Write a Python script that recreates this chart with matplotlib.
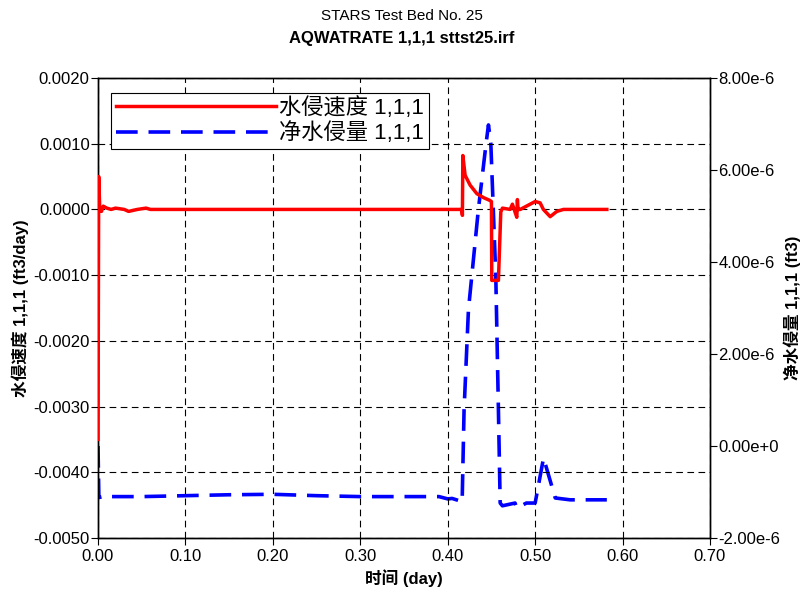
import matplotlib
matplotlib.use("Agg")
import matplotlib.pyplot as plt
from matplotlib.ticker import FuncFormatter, MultipleLocator

plt.rcParams['font.family'] = ['Liberation Sans', 'Noto Sans CJK SC']
plt.rcParams['axes.unicode_minus'] = False

# 水侵速度 1,1,1 (ft3/day), left axis
rate_t = [0.0, 0.0008, 0.002, 0.004, 0.006, 0.010, 0.015, 0.020, 0.030, 0.035, 0.045,
          0.055, 0.060, 0.20, 0.40, 0.416, 0.4168, 0.4173, 0.4199, 0.4256, 0.4333,
          0.4409, 0.4477, 0.4500, 0.4504, 0.4580, 0.4607, 0.4626, 0.4714, 0.4740,
          0.4760, 0.4790, 0.4797, 0.4805, 0.4830, 0.5000, 0.5057, 0.5094, 0.5172,
          0.5248, 0.5324, 0.5820]
rate_v = [-0.0035, 0.0005, 0.0, -0.00003, 0.00005, 0.00002, 0.0, 0.00002, 0.0, -0.00003,
          0.0, 0.00002, 0.0, 0.0, 0.0, 0.0, -0.00009, 0.00082, 0.00052, 0.00037, 0.00024,
          0.00018, 0.00014, 0.00012, -0.00108, -0.00108, -0.00004, 0.00002, 0.0, 0.00008,
          0.0, -0.00012, 0.00015, 0.0, 0.0, 0.00012, 0.0001, 0.0, -0.00011, -0.00003,
          0.0, 0.0]

# 净水侵量 1,1,1 (ft3), right axis
cum_t = [0.0, 0.001, 0.010, 0.015, 0.050, 0.10, 0.15, 0.20, 0.25, 0.30, 0.35, 0.39,
         0.40, 0.405, 0.415, 0.4165, 0.4187, 0.4237, 0.4350, 0.4439, 0.4466, 0.4493,
         0.4550, 0.4580, 0.4600, 0.4626, 0.4770, 0.4790, 0.4900, 0.5000, 0.5096, 0.5230,
         0.5400, 0.5820]
cum_v = [0.0, -1.12e-6, -1.08e-6, -1.10e-6, -1.10e-6, -1.08e-6, -1.06e-6, -1.05e-6,
         -1.08e-6, -1.10e-6, -1.10e-6, -1.10e-6, -1.15e-6, -1.14e-6, -1.20e-6, -1.22e-6,
         0.78e-6, 2.96e-6, 5.13e-6, 6.58e-6, 6.98e-6, 6.58e-6, 3.68e-6, 0.78e-6,
         -1.24e-6, -1.30e-6, -1.24e-6, -1.35e-6, -1.24e-6, -1.24e-6, -0.26e-6, -1.13e-6,
         -1.17e-6, -1.17e-6]

TITLE1 = "STARS Test Bed No. 25"
TITLE2 = "AQWATRATE 1,1,1 sttst25.irf"
RATE_LABEL = "水侵速度 1,1,1"
CUM_LABEL = "净水侵量 1,1,1"


def sci_fmt(v, pos):
    # e.g. 8.00e-6, 0.00e+0
    if abs(v) < 1e-15:
        return "0.00e+0"
    m, e = f"{v:.2e}".split("e")
    e = int(e)
    return f"{m}e{e:+d}" if e >= 0 else f"{m}e{e}"


fig = plt.figure(figsize=(8.04, 5.93), dpi=100)
ax = fig.add_axes([98 / 804, 1 - 538 / 593, 612 / 804, 460 / 593])
ax2 = ax.twinx()

l1, = ax.plot(rate_t, rate_v, color="red", lw=2.5, label=RATE_LABEL, zorder=3)
l2, = ax2.plot(cum_t, cum_v, color="blue", lw=2.6, ls=(0, (6, 3)), label=CUM_LABEL)

ax.set_xlim(0, 0.70)
ax.set_ylim(-0.005, 0.002)
ax2.set_ylim(-2e-6, 8e-6)
ax.xaxis.set_major_locator(MultipleLocator(0.1))
ax.yaxis.set_major_locator(MultipleLocator(0.001))
ax2.yaxis.set_major_locator(MultipleLocator(2e-6))
ax.xaxis.set_major_formatter(FuncFormatter(lambda v, p: f"{v:.2f}"))
ax.yaxis.set_major_formatter(FuncFormatter(lambda v, p: f"{v:.4f}"))
ax2.yaxis.set_major_formatter(FuncFormatter(sci_fmt))

ax.grid(True, color="black", ls=(0, (6, 4)), lw=0.8)
for a in (ax, ax2):
    a.tick_params(direction="out", length=5, width=0.8, labelsize=12, colors="black", pad=1)
    for s in a.spines.values():
        s.set_linewidth(1.0)
ax.tick_params(axis="x", pad=3)

ax.set_xlabel("时间 (day)", fontsize=12, fontweight="bold", labelpad=4)
ax.set_ylabel("水侵速度 1,1,1 (ft3/day)", fontsize=12, fontweight="bold", labelpad=3)
ax2.set_ylabel("净水侵量 1,1,1 (ft3)", fontsize=12, fontweight="bold", labelpad=2)

fig.text(0.5, 1 - 16 / 593, TITLE1, ha="center", va="center", fontsize=11)
fig.text(0.5, 1 - 38 / 593, TITLE2, ha="center", va="center", fontsize=12, fontweight="bold")

leg = ax.legend(handles=[l1, l2], loc="upper left", bbox_to_anchor=(0.022, 0.968),
                fontsize=16, handlelength=7.2, handletextpad=0.15, borderpad=0.2,
                labelspacing=0.15, borderaxespad=0, fancybox=False, framealpha=1,
                edgecolor="black")
leg.get_frame().set_linewidth(0.8)
ax.set_zorder(ax2.get_zorder() + 1)
ax.patch.set_visible(False)

fig.savefig("out.png", dpi=100)
